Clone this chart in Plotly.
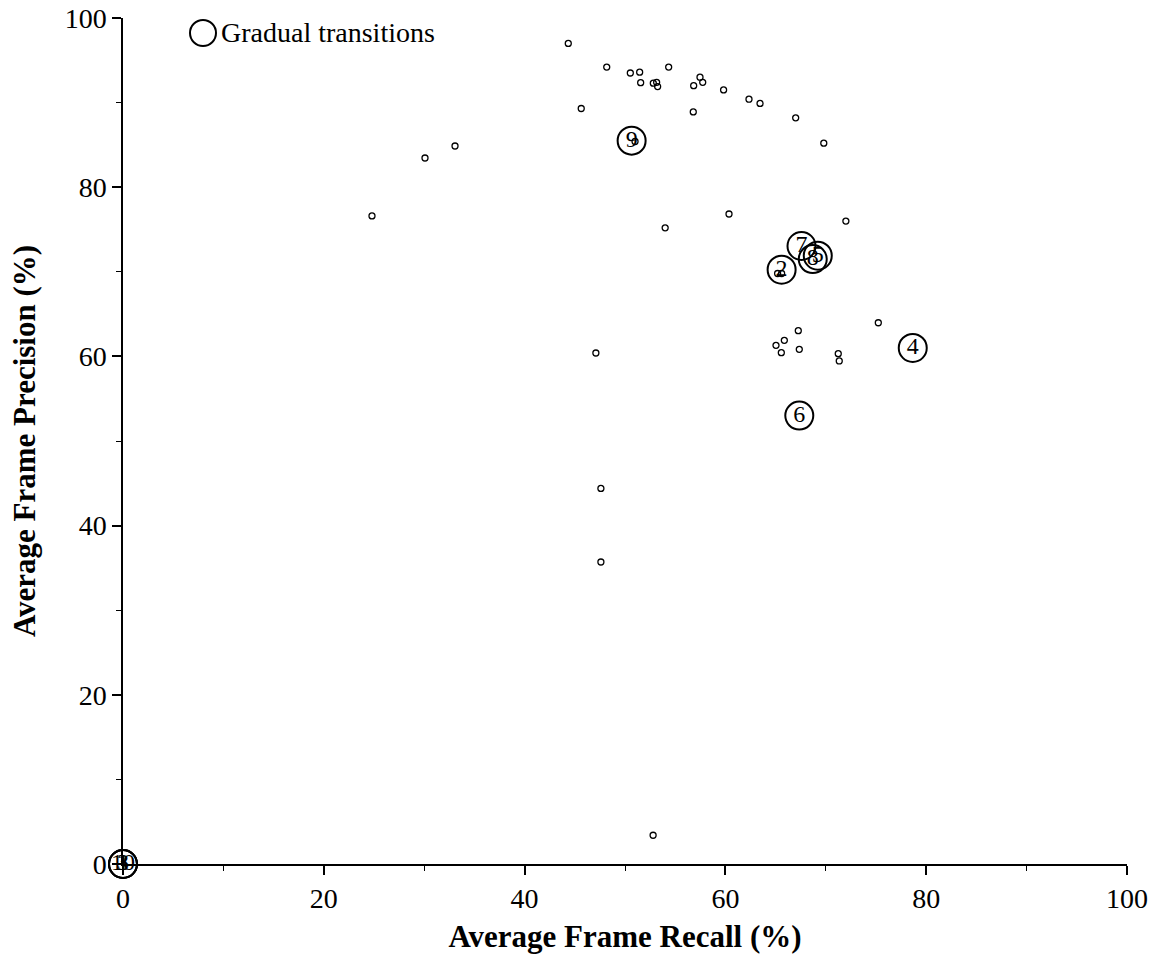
import plotly.graph_objects as go

# Small points (individual results)
small_x = [44.35, 48.18, 50.53, 51.46, 54.35, 51.56, 52.82, 53.15, 53.25, 57.47, 56.84, 57.74,
           59.82, 62.35, 63.45, 45.64, 56.8, 67.0, 33.07, 30.08, 69.8, 24.8, 54.0, 60.36, 72.0,
           67.26, 65.87, 65.04, 65.57, 67.36, 71.24, 71.34, 75.23, 47.1, 47.6, 47.6, 52.8,
           65.2, 65.6, 51.0]
small_y = [97.0, 94.2, 93.5, 93.6, 94.2, 92.36, 92.3, 92.4, 91.9, 93.0, 92.0, 92.4,
           91.5, 90.4, 89.9, 89.3, 88.9, 88.2, 84.87, 83.45, 85.2, 76.6, 75.2, 76.83, 76.0,
           63.04, 61.9, 61.31, 60.44, 60.84, 60.32, 59.46, 63.98, 60.4, 44.4, 35.7, 3.4,
           69.8, 69.8, 85.4]

# Numbered (labelled) points
label_names = ["1", "3", "10", "2", "4", "6", "7", "8", "5", "9"]
label_x = [0.0, 0.0, 0.0, 65.6, 78.66, 67.36, 67.58, 68.7, 69.2, 50.66]
label_y = [0.0, 0.0, 0.0, 70.25, 61.0, 53.0, 73.05, 71.5, 71.9, 85.5]

legend_label = "Gradual transitions"

FONT = "Liberation Serif, Times New Roman, serif"

fig = go.Figure()
fig.add_trace(go.Scatter(
    x=small_x, y=small_y, mode="markers",
    marker=dict(size=6, color="rgba(0,0,0,0)", line=dict(color="black", width=1.3)),
    showlegend=False, cliponaxis=False, hoverinfo="x+y"))
fig.add_trace(go.Scatter(
    x=label_x, y=label_y, mode="markers+text", text=label_names,
    textposition="middle center",
    textfont=dict(family=FONT, size=24, color="black"),
    marker=dict(size=28, color="rgba(0,0,0,0)", line=dict(color="black", width=2)),
    showlegend=False, cliponaxis=False, hoverinfo="x+y+text"))

# Legend (manual)
fig.add_shape(type="circle", xref="paper", yref="paper",
              xsizemode="pixel", ysizemode="pixel",
              xanchor=(203 - 123) / 1004, yanchor=(864 - 33) / 846,
              x0=-13, x1=13, y0=-13, y1=13,
              line=dict(color="black", width=2))
fig.add_annotation(xref="paper", yref="paper", x=(219 - 123) / 1004, y=(864 - 33) / 846,
                   xanchor="left", yanchor="middle", text=legend_label, showarrow=False,
                   font=dict(family=FONT, size=28, color="black"))

axis_common = dict(
    range=[0, 100], showgrid=False, zeroline=False, showline=True, automargin=False,
    linecolor="black", linewidth=1.5, ticks="outside", ticklen=9, tickwidth=1.5,
    tickcolor="black", dtick=20, tick0=0,
    minor=dict(ticks="outside", ticklen=5, tickwidth=1.2, tickcolor="black", dtick=10),
    tickfont=dict(family=FONT, size=28, color="black"),
)
fig.update_xaxes(**axis_common,
                 title=dict(text="<b>Average Frame Recall (%)</b>", standoff=12,
                            font=dict(family=FONT, size=31, color="black")))
fig.update_yaxes(**axis_common,
                 title=dict(text="<b>Average Frame Precision (%)</b>", standoff=20,
                            font=dict(family=FONT, size=31, color="black")))

fig.update_layout(
    width=1154, height=957, autosize=False,
    margin=dict(l=123, r=27, t=18, b=93),
    plot_bgcolor="white", paper_bgcolor="white",
    font=dict(family=FONT, color="black"),
)

fig.write_html("out.html")
